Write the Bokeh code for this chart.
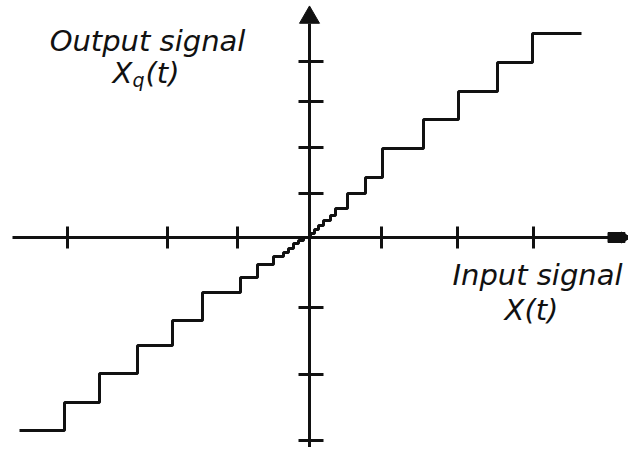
from bokeh.plotting import figure
from bokeh.models import Range1d
from bokeh.embed import file_html
from bokeh.resources import INLINE
from bokeh.core.properties import value

# Quantizer staircase: left edge of each output level, and the level itself
step_x = [-290, -245, -210, -172, -137, -107, -69, -52, -36, -26, -21, -16, -11, -6,
          1, 5, 9, 14, 21, 26, 38, 56, 73, 114, 149, 188, 223, 272]
step_y = [-193, -165, -136, -108, -83, -55, -40, -27, -19, -15, -11, -6, -3, 0,
          4, 8, 12, 17, 22, 29, 44, 60, 89, 118, 146, 175, 204, 204]

# Tick positions on the two axes
x_ticks = [-242, -142, -72, 72, 148, 224]
y_ticks = [176, 136, 90, 44, -70, -137, -203]

INK = "#111111"
FONT = value("DejaVu Sans")

p = figure(width=628, height=447, output_backend="svg", toolbar_location=None,
           x_range=Range1d(-309, 319), y_range=Range1d(-210, 237),
           min_border=0, min_border_left=0, min_border_right=0,
           min_border_top=0, min_border_bottom=0)
p.axis.visible = False
p.grid.visible = False
p.outline_line_color = None
p.background_fill_color = "white"
p.border_fill_color = "white"

# axes lines
p.segment(x0=[-297], y0=[0], x1=[319], y1=[0], line_color=INK, line_width=3)
p.segment(x0=[0], y0=[-240], x1=[0], y1=[214], line_color=INK, line_width=3)

# arrow heads
p.scatter(x=[0], y=[220], marker="triangle", size=20, fill_color=INK, line_color=INK)
p.rect(x=[307], y=[0], width=17, height=10, fill_color=INK, line_color=INK)
p.scatter(x=[315], y=[0], marker="triangle", angle=-1.5708, size=11,
          fill_color=INK, line_color=INK)

# ticks
p.segment(x0=x_ticks, y0=[-11] * len(x_ticks), x1=x_ticks, y1=[11] * len(x_ticks),
          line_color=INK, line_width=3)
p.segment(x0=[-11] * len(y_ticks), y0=y_ticks, x1=[14] * len(y_ticks), y1=y_ticks,
          line_color=INK, line_width=3)

# staircase
p.step(x=step_x, y=step_y, mode="after", line_color=INK, line_width=3)

# labels
common = dict(text_font=FONT, text_font_style="italic", text_color=INK,
              text_baseline="alphabetic")
p.text(x=[-162], y=[197], text=["Output signal"], text_align="center",
       text_font_size="29px", **common)
p.text(x=[-197], y=[165], text=["X"], text_align="left", text_font_size="29px", **common)
p.text(x=[-177], y=[158], text=["q"], text_align="left", text_font_size="19px", **common)
p.text(x=[-164], y=[165], text=["(t)"], text_align="left", text_font_size="29px", **common)
p.text(x=[228], y=[-37], text=["Input signal"], text_align="center",
       text_font_size="29px", **common)
p.text(x=[222], y=[-72], text=["X(t)"], text_align="center",
       text_font_size="29px", **common)

open("out.html", "w").write(file_html(p, INLINE))
